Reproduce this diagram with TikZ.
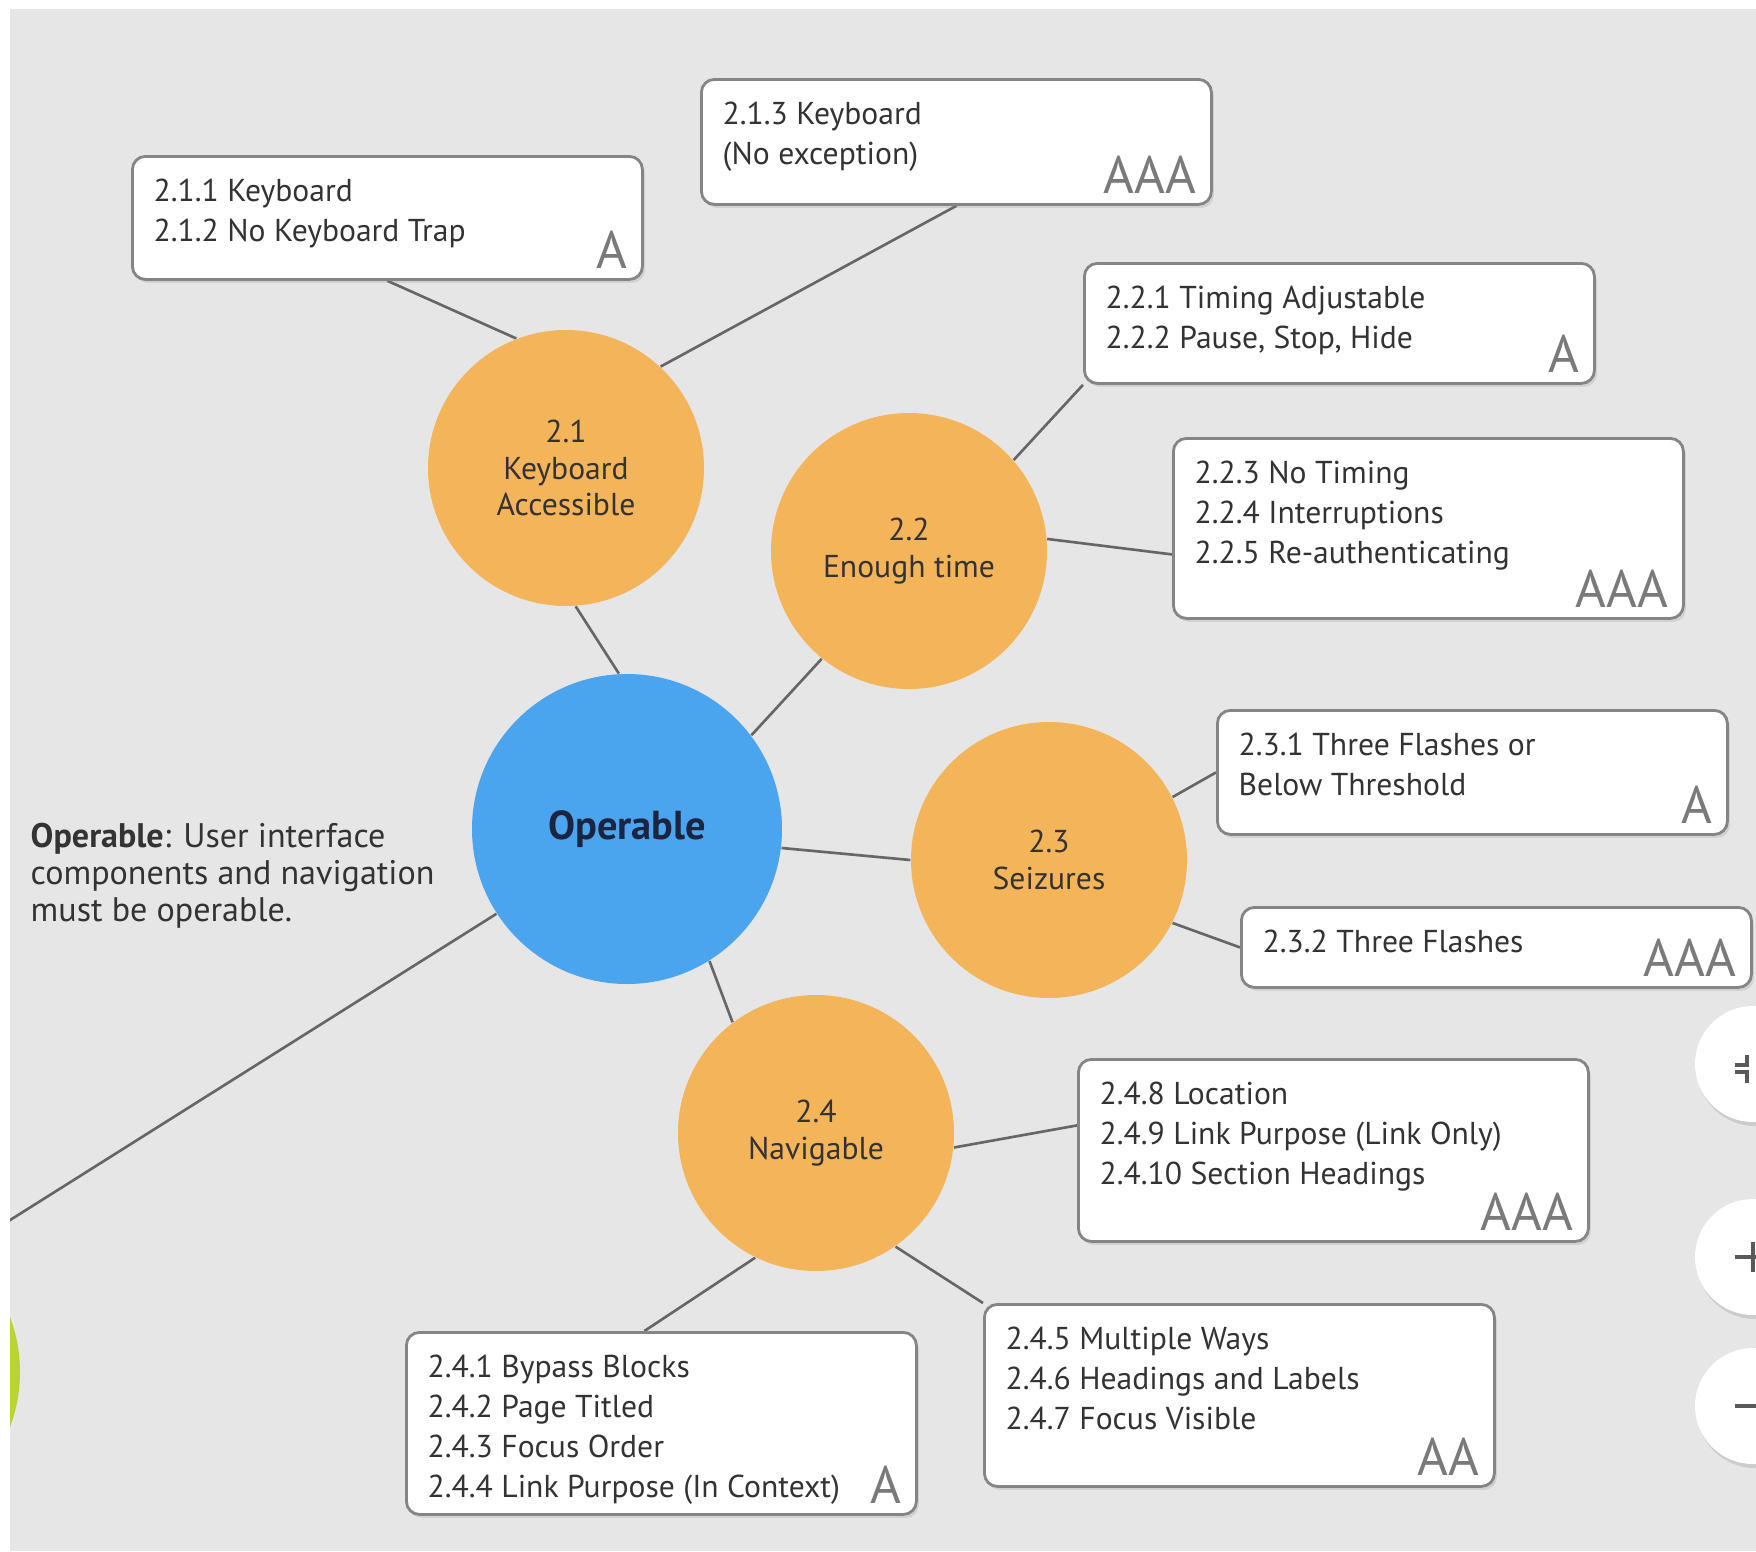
\documentclass[tikz,border=0pt]{standalone}
\usepackage{fontspec}
\setmainfont{PT Sans}
\usetikzlibrary{shadows}

\definecolor{paperbg}{HTML}{E6E6E6}
\definecolor{topicfill}{HTML}{F4B55A}
\definecolor{rootfill}{HTML}{4BA4EE}
\definecolor{limefill}{HTML}{B7D434}
\definecolor{wire}{HTML}{666666}
\definecolor{frame}{HTML}{858585}
\definecolor{gradegray}{HTML}{7A7A7A}
\definecolor{ink}{HTML}{333333}
\definecolor{navy}{HTML}{1B2440}

\pgfdeclarelayer{paper}
\pgfdeclarelayer{links}
\pgfsetlayers{paper,links,main}

\tikzset{
  topic/.style={circle, fill=topicfill, minimum size=2.76cm, inner sep=0pt, align=center,
    text=ink, font=\fontsize{9}{10.5}\selectfont},
  root/.style={circle, fill=rootfill, minimum size=3.1cm, inner sep=0pt, text=navy,
    font=\fontsize{11.5}{13}\selectfont\bfseries},
  card/.style={draw=frame, line width=0.8pt, fill=white, rounded corners=1.3mm,
    minimum width=5.1cm, anchor=north west,
    drop shadow={opacity=0.2, shadow xshift=0.25mm, shadow yshift=-0.35mm}},
  cardtext/.style={anchor=north west, inner sep=0pt, align=left, text=ink,
    font=\fontsize{9}{11.4}\selectfont},
  grade/.style={anchor=base east, inner sep=0pt, text=gradegray,
    font=\fontsize{15}{16}\selectfont},
  link/.style={draw=wire, line width=0.75pt},
  zoombtn/.style={circle, fill=white, minimum size=1.16cm, inner sep=0pt,
    drop shadow={opacity=0.25, shadow xshift=0.2mm, shadow yshift=-0.4mm}},
  icon/.style={draw=black!65, line width=1pt}
}

\begin{document}
\begin{tikzpicture}[x=0.1mm, y=-0.1mm]
\useasboundingbox (0,0) rectangle (1756,1551);

\begin{pgfonlayer}{paper}
\fill[white] (0,0) rectangle (1756,1551);
\fill[paperbg] (10,9) rectangle (1756,1551);
\end{pgfonlayer}

% centre and topics
\node[root] (op) at (627,829) {Operable};
\node[topic] (c21) at (566,468) {2.1\\Keyboard\\Accessible};
\node[topic] (c22) at (909,551) {2.2\\Enough time};
\node[topic] (c23) at (1049,860) {2.3\\Seizures};
\node[topic] (c24) at (816,1133) {2.4\\Navigable};

\node[anchor=north west, inner sep=0pt, align=left, text=ink,
  font=\fontsize{9.7}{10.6}\selectfont] (desc) at (30,822)
  {\textbf{Operable}: User interface\\components and navigation\\must be operable.};

% success criteria
\foreach \n/\x/\y/\h/\txt/\lvl in {
  b211/131/155/123/{2.1.1 Keyboard\\2.1.2 No Keyboard Trap}/A,
  b213/700/78/125/{2.1.3 Keyboard\\(No exception)}/AAA,
  b221/1083/262/120/{2.2.1 Timing Adjustable\\2.2.2 Pause, Stop, Hide}/A,
  b223/1172/437/180/{2.2.3 No Timing\\2.2.4 Interruptions\\2.2.5 Re-authenticating}/AAA,
  b231/1216/709/124/{2.3.1 Three Flashes or\\Below Threshold}/A,
  b232/1240/906/80/{2.3.2 Three Flashes}/AAA,
  b248/1077/1058/182/{2.4.8 Location\\2.4.9 Link Purpose (Link Only)\\2.4.10 Section Headings}/AAA,
  b245/983/1303/182/{2.4.5 Multiple Ways\\2.4.6 Headings and Labels\\2.4.7 Focus Visible}/AA,
  b241/405/1331/182/{2.4.1 Bypass Blocks\\2.4.2 Page Titled\\2.4.3 Focus Order\\2.4.4 Link Purpose (In Context)}/A}
{
  \node[card, minimum height=\h*0.1mm] (\n) at (\x,\y) {};
  \node[cardtext] (\n-t) at ([shift={(22,23)}]\n.north west) {\txt};
  \node[grade] (\n-l) at ([shift={(-16,-12)}]\n.south east) {\lvl};
}

% edge of the map
\begin{scope}
\clip (10,9) rectangle (1756,1551);
\node[circle, fill=limefill, minimum size=3.1cm] (gnode) at (-135,1372) {};
\node[zoombtn] (fitbtn) at (1753,1064) {};
\node[zoombtn] (plusbtn) at (1753,1257) {};
\node[zoombtn] (minusbtn) at (1753,1406) {};
\draw[icon] ([shift={(-18,1)}]fitbtn.center) -- ++(12,0) -- ++(0,-10);
\draw[icon] ([shift={(-18,8)}]fitbtn.center) -- ++(12,0) -- ++(0,11);
\draw[icon] ([xshift=-1.8mm]plusbtn.center) -- ++(40,0);
\draw[icon] ([yshift=1.5mm]plusbtn.center) -- ++(0,30);
\draw[icon] ([xshift=-1.8mm]minusbtn.center) -- ++(40,0);
\end{scope}

\coordinate (prnt) at (-20,1239);

\begin{pgfonlayer}{links}
\begin{scope}
\clip (10,9) rectangle (1756,1551);
\draw[link] (b211.south) -- (c21.111);
\draw[link] (b213.south) -- (c21.47);
\draw[link] (c21.-86) -- (op.93);
\draw[link] (b221.south west) -- (c22.41);
\draw[link] (c22.5) -- ([yshift=-2.6mm]b223.west);
\draw[link] (c22.231) -- (op.37);
\draw[link] (op.-7) -- (c23.180);
\draw[link] (c23.27) -- (b231.west);
\draw[link] (c23.-27) -- (b232.west);
\draw[link] (op.-58) -- (c24.127);
\draw[link] (c24.-6) -- ([yshift=2.5mm]b248.west);
\draw[link] (c24.244) -- ([xshift=-1.7mm]b241.north);
\draw[link] (c24.-55) -- (b245.north west);
\draw[link] (op.213) -- (prnt);
\end{scope}
\end{pgfonlayer}

\end{tikzpicture}
\end{document}
